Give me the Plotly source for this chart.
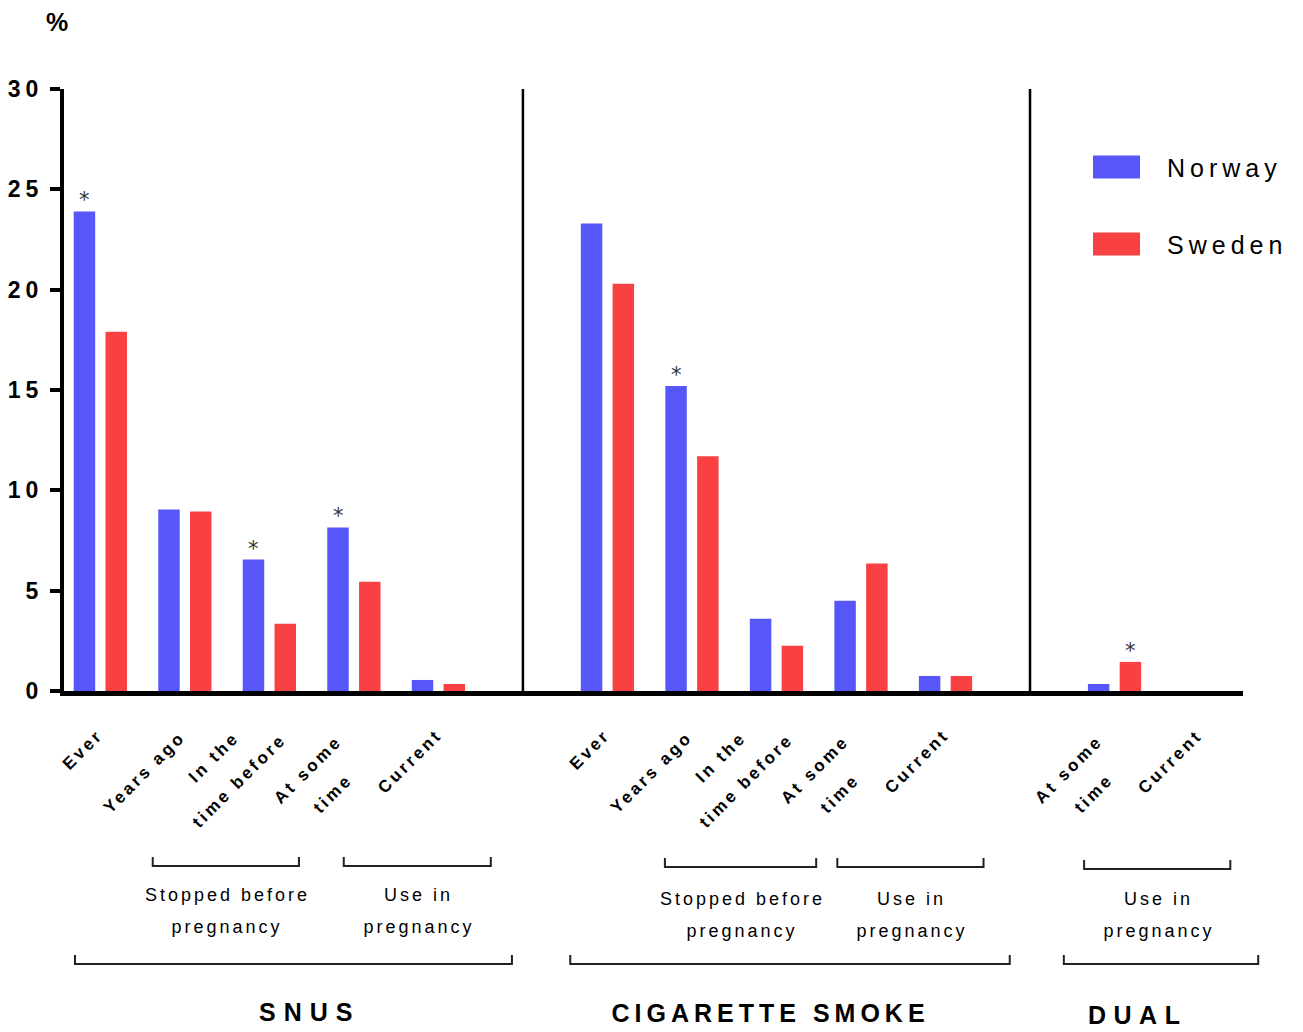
import json
import plotly.graph_objects as go

# ---------------- data ----------------
snus_categories = ["Ever", "Years ago", "In the time before", "At some time", "Current"]
snus_norway = [23.9, 9.05, 6.55, 8.15, 0.55]
snus_sweden = [17.9, 8.95, 3.35, 5.45, 0.35]
snus_sig_norway = [True, False, True, True, False]
snus_sig_sweden = [False, False, False, False, False]

cig_categories = ["Ever", "Years ago", "In the time before", "At some time", "Current"]
cig_norway = [23.3, 15.2, 3.6, 4.5, 0.75]
cig_sweden = [20.3, 11.7, 2.25, 6.35, 0.75]
cig_sig_norway = [False, True, False, False, False]
cig_sig_sweden = [False, False, False, False, False]

dual_categories = ["At some time", "Current"]
dual_norway = [0.35, 0.0]
dual_sweden = [1.45, 0.0]
dual_sig_norway = [False, False]
dual_sig_sweden = [True, False]

series_names = ["Norway", "Sweden"]
y_ticks = [0, 5, 10, 15, 20, 25, 30]
group_titles = ["SNUS", "CIGARETTE SMOKE", "DUAL"]

# ---------------- layout geometry ----------------
W, H = 1303, 1032
L, R, T, B = 64, 1243, 89, 691
XMIN, XMAX = -0.43, 13.52
BLUE = "#5757F9"
RED = "#F94144"
FONT = "Liberation Sans"


def paper_x(px):
    return (px - L) / (R - L)


def paper_y(py):
    return (B - py) / (B - T)


def px_of_slot(s):
    return L + (s - XMIN) / (XMAX - XMIN) * (R - L)


groups = [
    (snus_categories, snus_norway, snus_sweden, snus_sig_norway, snus_sig_sweden),
    (cig_categories, cig_norway, cig_sweden, cig_sig_norway, cig_sig_sweden),
    (dual_categories, dual_norway, dual_sweden, dual_sig_norway, dual_sig_sweden),
]

xs, cats, nor, swe, sign, sigs = [], [], [], [], [], []
separators = []
start = 0
for gi, (c, n, s, sn, ss) in enumerate(groups):
    for i in range(len(c)):
        xs.append(start + i)
    cats += c
    nor += n
    swe += s
    sign += sn
    sigs += ss
    start += len(c) + 1
    if gi < len(groups) - 1:
        separators.append(start - 1)

BAR_W = 0.254
OFF_N = -0.315
OFF_S = 0.061

fig = go.Figure()
fig.add_trace(go.Bar(x=xs, y=nor, name=series_names[0], width=BAR_W, offset=OFF_N,
                     marker=dict(color=BLUE, line=dict(width=0)), showlegend=False))
fig.add_trace(go.Bar(x=xs, y=swe, name=series_names[1], width=BAR_W, offset=OFF_S,
                     marker=dict(color=RED, line=dict(width=0)), showlegend=False))

annotations = []
spacings = []


def add_ann(spacing=0, **kw):
    annotations.append(kw)
    spacings.append(spacing)


STAR_FONT = dict(family="DejaVu Sans", size=21, color="#333333")
# significance stars
for x, v, f in zip(xs, nor, sign):
    if f:
        add_ann(x=x + OFF_N + BAR_W / 2, y=v, xref="x", yref="y", text="*", showarrow=False,
                yanchor="bottom", xanchor="center", yshift=-3, font=STAR_FONT)
for x, v, f in zip(xs, swe, sigs):
    if f:
        add_ann(x=x + OFF_S + BAR_W / 2, y=v, xref="x", yref="y", text="*", showarrow=False,
                yanchor="bottom", xanchor="center", yshift=-3, font=STAR_FONT)

# rotated category labels (line text, dx px, y px)
label_layout = {
    "Ever": [("Ever", -17.7, 749)],
    "Years ago": [("Years ago", -40.7, 772)],
    "In the time before": [("In the", -56, 757), ("time before", -30, 780)],
    "At some time": [("At some", -46, 769), ("time", -21, 793)],
    "Current": [("Current", -28.7, 761)],
}
for x, c in zip(xs, cats):
    for txt, dx, ypx in label_layout[c]:
        add_ann(spacing=3, x=x, y=0, xref="x", yref="paper", xshift=dx, yshift=B - ypx,
                text=txt, showarrow=False, textangle=-45, xanchor="center", yanchor="middle",
                font=dict(family=FONT, size=17, color="black", weight="bold"))

# brackets: (x0 slot, x1 slot, horizontal y px, text lines, first text y px)
sub_brackets = [
    (0.62, 2.35, 866, ["Stopped before", "pregnancy"], 895),
    (2.88, 4.62, 866, ["Use in", "pregnancy"], 895),
    (6.68, 8.47, 867, ["Stopped before", "pregnancy"], 899),
    (8.72, 10.45, 867, ["Use in", "pregnancy"], 899),
    (11.64, 13.37, 869, ["Use in", "pregnancy"], 899),
]
big_brackets = [(-0.30, 4.87), (5.56, 10.76), (11.40, 13.70)]
title_layout = [(305, 1012, 8), (768, 1013, 5), (1134, 1015, 7.5)]

shapes = []
for x0, x1, yh, lines, ytxt in sub_brackets:
    p0, p1 = paper_x(px_of_slot(x0)), paper_x(px_of_slot(x1))
    yb, yt = paper_y(yh), paper_y(yh - 9)
    shapes.append(dict(type="path", xref="paper", yref="paper",
                       path=f"M {p0},{yt} L {p0},{yb} L {p1},{yb} L {p1},{yt}",
                       line=dict(color="#222222", width=2)))
    cx = (px_of_slot(x0) + px_of_slot(x1)) / 2 + 1.5
    for k, ln in enumerate(lines):
        add_ann(spacing=3, x=paper_x(cx), y=paper_y(ytxt + 32 * k), xref="paper", yref="paper",
                text=ln, showarrow=False, xanchor="center", yanchor="middle",
                font=dict(family=FONT, size=18, color="black"))

yb, yt = paper_y(964), paper_y(955)
for x0, x1 in big_brackets:
    p0, p1 = paper_x(px_of_slot(x0)), paper_x(px_of_slot(x1))
    shapes.append(dict(type="path", xref="paper", yref="paper",
                       path=f"M {p0},{yt} L {p0},{yb} L {p1},{yb} L {p1},{yt}",
                       line=dict(color="#222222", width=2)))

for title, (cx, cy, sp) in zip(group_titles, title_layout):
    add_ann(spacing=sp, x=paper_x(cx + sp / 2), y=paper_y(cy), xref="paper", yref="paper",
            text=title, showarrow=False, xanchor="center", yanchor="middle",
            font=dict(family=FONT, size=25, color="black", weight="bold"))

# separators between groups
for s in separators:
    shapes.append(dict(type="line", xref="x", yref="y", x0=s, x1=s, y0=0, y1=y_ticks[-1],
                       line=dict(color="black", width=2.5)))

# legend (manual)
for name, col, ypx in [(series_names[0], BLUE, 167), (series_names[1], RED, 244)]:
    shapes.append(dict(type="rect", xref="paper", yref="paper",
                       x0=paper_x(1093), x1=paper_x(1140), y0=paper_y(ypx + 11.5), y1=paper_y(ypx - 11.5),
                       fillcolor=col, line=dict(width=0)))
    add_ann(spacing=5, x=paper_x(1165), y=paper_y(ypx + 1), xref="paper", yref="paper", text=name,
            showarrow=False, xanchor="left", yanchor="middle", align="left",
            font=dict(family=FONT, size=25, color="black"))

# "%" axis label
add_ann(x=paper_x(57), y=paper_y(22), xref="paper", yref="paper", text="%", showarrow=False,
        xanchor="center", yanchor="middle", font=dict(family=FONT, size=25, color="black", weight="bold"))

fig.update_layout(
    width=W, height=H,
    margin=dict(l=L, r=W - R, t=T, b=H - B, pad=0),
    plot_bgcolor="white", paper_bgcolor="white",
    barmode="overlay",
    annotations=annotations,
    shapes=shapes,
    showlegend=False,
    xaxis=dict(range=[XMIN, XMAX], showgrid=False, zeroline=False, showticklabels=False,
               ticks="", showline=True, linecolor="black", linewidth=5, fixedrange=True),
    yaxis=dict(range=[0, 30], tickvals=y_ticks, ticktext=[str(v) for v in y_ticks],
               showgrid=False, zeroline=False, showline=True, linecolor="black", linewidth=4,
               ticks="outside", ticklen=10, tickwidth=4, tickcolor="black",
               ticklabelstandoff=2,
               tickfont=dict(family=FONT, size=23, color="black", weight="bold")),
)

post = """
document.body.style.margin = '0';
var gd = document.getElementById('{plot_id}');
var sp = %s;
gd.querySelectorAll('g.annotation').forEach(function(g){
  var i = +g.getAttribute('data-index');
  var t = g.querySelector('text.annotation-text');
  if (t && sp[i]) { t.style.letterSpacing = sp[i] + 'px'; }
});
gd.querySelectorAll('.ytick text').forEach(function(t){ t.style.letterSpacing = '5px'; });
""" % json.dumps(spacings)

fig.write_html("out.html", post_script=post, config={"displayModeBar": False})
